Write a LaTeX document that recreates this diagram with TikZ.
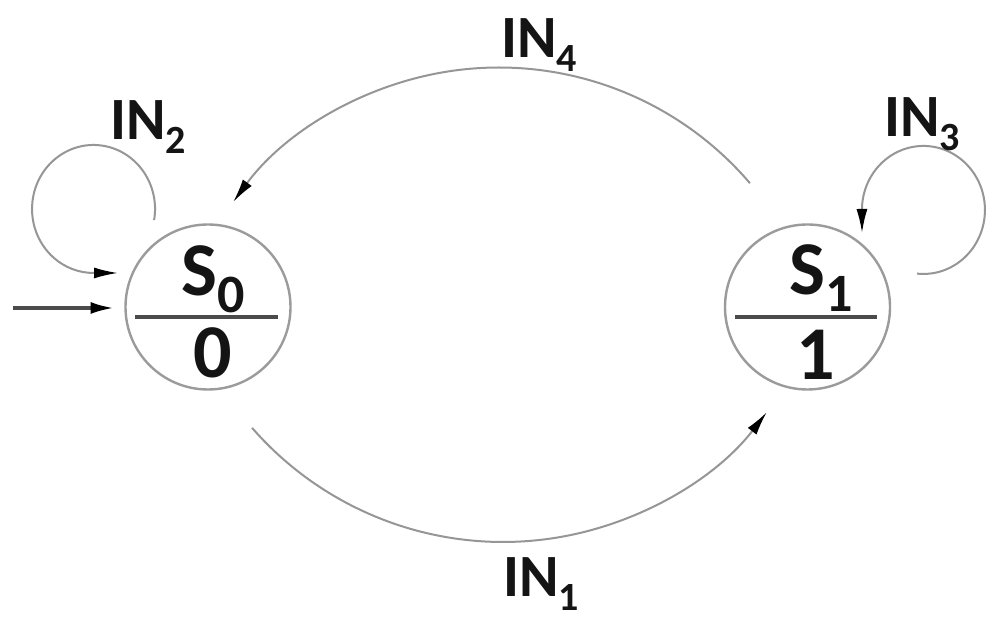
\documentclass[tikz,border=0pt]{standalone}
\usepackage{fontspec}
\setmainfont{Carlito}
\usetikzlibrary{arrows.meta,calc}
\newcommand\INlab[1]{{\fontsize{30}{30}\selectfont\bfseries IN\raisebox{-7pt}{\fontsize{20}{20}\selectfont #1}}}
\newcommand\Slab[1]{{\fontsize{38}{38}\selectfont\bfseries S\raisebox{-8.5pt}{\fontsize{27}{27}\selectfont #1}}}
\newcommand\Olab[1]{{\fontsize{38}{38}\selectfont\bfseries #1}}
\definecolor{circgray}{RGB}{155,155,155}
\definecolor{edgegray}{RGB}{150,150,150}
\definecolor{divgray}{RGB}{75,75,75}
\definecolor{txt}{RGB}{20,20,20}
\tikzset{
  every node/.style={inner sep=0pt, outer sep=0pt, text=txt},
  statebox/.style={circle, draw=circgray, line width=1.2pt, minimum size=82.5pt},
  divider/.style={draw=divgray, line width=2pt},
  edge/.style={draw=edgegray, line width=1pt, -{Latex[length=12pt,width=5.5pt,color=black]}},
  initarr/.style={draw=divgray, line width=1.8pt, -{Latex[length=12pt,width=6pt,color=black]}},
  lab/.style={anchor=base},
}
\begin{document}
\begin{tikzpicture}[x=0.5pt,y=0.5pt]
\useasboundingbox (0,0) rectangle (1000,625);
\fill[white] (0,0) rectangle (1000,625);
% states
\node[statebox] (s0) at (208,318) {};
\node[statebox] (s1) at (807.5,318) {};
\draw[divider] ($(s0)+(-73,-10)$) -- ($(s0)+(70,-10)$);
\draw[divider] ($(s1)+(-72.5,-10)$) -- ($(s1)+(69.5,-10)$);
\node[lab] (s0name) at (213,329) {\Slab{0}};
\node[lab] (s0out) at (212.5,247) {\Olab{0}};
\node[lab] (s1name) at (821,330) {\Slab{1}};
\node[lab] (s1out) at (816,245) {\Olab{1}};
% initial arrow
\coordinate (init) at (13,317);
\draw[initarr] (init) -- ($(s0.west)+(-11,-1)$);
% IN4: S1 -> S0 (top arc)
\coordinate (c4) at (499,227.5);
\coordinate (e4) at ($(c4)+(40.5:330)$);
\draw[edge] (e4) arc[start angle=40.5, end angle=143.7, radius=330];
% IN1: S0 -> S1 (bottom arc)
\coordinate (c1) at (503,416);
\coordinate (e1) at ($(c1)+(221.1:333)$);
\draw[edge] (e1) arc[start angle=221.1, end angle=322.4, radius=333];
% IN2 self loop on S0
\coordinate (l2) at (154.1,404.9);
\draw[edge] (l2) arc[start angle=-10, end angle=270, x radius=61.5, y radius=64] -- ($(s0.west)+(-7.5,34)$);
% IN3 self loop on S1
\coordinate (l3) at (917,351.4);
\draw[edge] (l3) arc[start angle=-96, end angle=180, x radius=61.5, y radius=64] -- (862,392);
% labels
\node[lab] (in4) at (539,567) {\INlab{4}};
\node[lab] (in1) at (541,28) {\INlab{1}};
\node[lab] (in2) at (148,485) {\INlab{2}};
\node[lab] (in3) at (922,488) {\INlab{3}};
\end{tikzpicture}
\end{document}
